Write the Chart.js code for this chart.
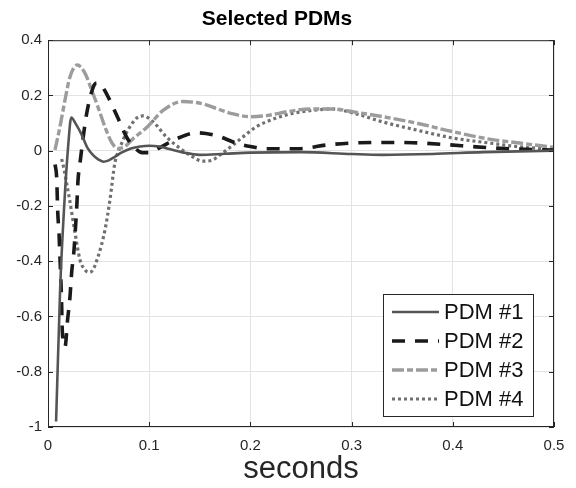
<!DOCTYPE html>
<html>
<head>
<meta charset="utf-8">
<script src="https://cdn.jsdelivr.net/npm/chart.js@4/dist/chart.umd.min.js"></script>
<style>
  html, body { margin: 0; padding: 0; background: #fff; }
  #wrap { width: 576px; height: 488px; }
</style>
</head>
<body>
<div id="wrap"><canvas id="c"></canvas></div>
<script>
const FONT = "'Liberation Sans', Arial, Helvetica, sans-serif";

const labels = ['PDM #1', 'PDM #2', 'PDM #3', 'PDM #4'];

// PDM #1 (solid)
const t1 = [0.008, 0.012, 0.016, 0.020, 0.023, 0.027, 0.033, 0.039, 0.045, 0.050, 0.055, 0.060, 0.066, 0.073, 0.082, 0.091, 0.100, 0.110, 0.120, 0.133, 0.150, 0.175, 0.200, 0.250, 0.300, 0.330, 0.380, 0.430, 0.500];
const y1 = [-0.98, -0.50, -0.20, 0.02, 0.12, 0.10, 0.06, 0.01, -0.018, -0.032, -0.04, -0.035, -0.022, -0.006, 0.008, 0.015, 0.018, 0.015, 0.006, -0.006, -0.015, -0.011, -0.007, -0.005, -0.012, -0.015, -0.012, -0.005, 0];

// PDM #2 (dashed)
const t2 = [0.007, 0.0086, 0.0096, 0.0109, 0.0118, 0.0128, 0.0135, 0.0140, 0.0158, 0.0168, 0.0194, 0.0217, 0.0234, 0.0257, 0.0273, 0.0286, 0.0296, 0.0316, 0.038, 0.0447, 0.048, 0.052, 0.058, 0.069, 0.078, 0.086, 0.093, 0.100, 0.110, 0.127, 0.147, 0.167, 0.185, 0.200, 0.216, 0.246, 0.278, 0.308, 0.338, 0.360, 0.394, 0.423, 0.456, 0.500];
const y2 = [-0.05, -0.10, -0.22, -0.30, -0.385, -0.475, -0.56, -0.64, -0.70, -0.71, -0.61, -0.53, -0.44, -0.36, -0.27, -0.19, -0.11, -0.045, 0.13, 0.23, 0.245, 0.24, 0.205, 0.119, 0.047, 0.01, -0.007, -0.007, 0.01, 0.043, 0.065, 0.054, 0.029, 0.015, 0.007, 0.007, 0.022, 0.029, 0.03, 0.029, 0.022, 0.014, 0.007, 0.002];

// PDM #3 (dash-dot)
const t3 = [0.0069, 0.0118, 0.0168, 0.0217, 0.0289, 0.0365, 0.0431, 0.0494, 0.0563, 0.0632, 0.069, 0.076, 0.083, 0.098, 0.114, 0.133, 0.145, 0.155, 0.167, 0.183, 0.200, 0.216, 0.236, 0.259, 0.281, 0.301, 0.331, 0.364, 0.400, 0.436, 0.466, 0.500];
const y3 = [0.003, 0.086, 0.184, 0.267, 0.31, 0.281, 0.22, 0.158, 0.086, 0.028, 0.008, 0.015, 0.04, 0.086, 0.147, 0.178, 0.175, 0.168, 0.152, 0.133, 0.123, 0.127, 0.141, 0.151, 0.151, 0.141, 0.123, 0.10, 0.069, 0.042, 0.028, 0.012];

// PDM #4 (dotted)
const t4 = [0.0135, 0.016, 0.0185, 0.021, 0.0267, 0.0316, 0.0365, 0.040, 0.0431, 0.0494, 0.0563, 0.0612, 0.0661, 0.071, 0.079, 0.088, 0.094, 0.104, 0.117, 0.130, 0.142, 0.153, 0.163, 0.170, 0.183, 0.193, 0.206, 0.216, 0.236, 0.259, 0.281, 0.301, 0.331, 0.364, 0.400, 0.436, 0.466, 0.500];
const y4 = [-0.03, -0.07, -0.12, -0.17, -0.297, -0.395, -0.431, -0.44, -0.437, -0.384, -0.287, -0.178, -0.044, 0.01, 0.075, 0.119, 0.126, 0.104, 0.05, 0.01, -0.02, -0.038, -0.033, -0.015, 0.021, 0.051, 0.087, 0.105, 0.13, 0.145, 0.151, 0.137, 0.104, 0.075, 0.046, 0.028, 0.014, 0.004];

const pts = (t, v) => t.map((x, i) => ({ x, y: v[i] }));

const styles = [
  { color: '#555555', width: 2.6, dash: [] },
  { color: '#1a1a1a', width: 3.6, dash: [13, 10] },
  { color: '#9c9c9c', width: 3.4, dash: [12, 3, 6, 3] },
  { color: '#707070', width: 3.2, dash: [3, 3] }
];

const series = [pts(t1, y1), pts(t2, y2), pts(t3, y3), pts(t4, y4)];

// box, inward ticks, legend inside the axes
const frame = {
  id: 'frame',
  afterDatasetsDraw(chart) {
    const { ctx, chartArea: a, scales: { x, y } } = chart;
    ctx.save();
    ctx.strokeStyle = '#262626';
    ctx.lineWidth = 1;
    ctx.strokeRect(a.left + 0.5, a.top + 0.5, a.width - 1, a.height - 1);
    ctx.beginPath();
    x.ticks.forEach(t => {
      const px = Math.round(x.getPixelForValue(t.value)) + 0.5;
      ctx.moveTo(px, a.bottom); ctx.lineTo(px, a.bottom - 5);
      ctx.moveTo(px, a.top); ctx.lineTo(px, a.top + 5);
    });
    y.ticks.forEach(t => {
      const py = Math.round(y.getPixelForValue(t.value)) + 0.5;
      ctx.moveTo(a.left, py); ctx.lineTo(a.left + 5, py);
      ctx.moveTo(a.right, py); ctx.lineTo(a.right - 5, py);
    });
    ctx.stroke();

    const bw = 150, bh = 122;
    const bx = a.right - 21 - bw, by = a.bottom - 11 - bh;
    ctx.fillStyle = '#fff';
    ctx.fillRect(bx, by, bw, bh);
    ctx.strokeStyle = '#262626';
    ctx.strokeRect(bx + 0.5, by + 0.5, bw, bh);
    ctx.font = '22px ' + FONT;
    ctx.textBaseline = 'middle';
    labels.forEach((lab, i) => {
      const s = styles[i];
      const cy = by + 18 + i * 29;
      ctx.strokeStyle = s.color;
      ctx.lineWidth = s.width;
      ctx.setLineDash(s.dash);
      ctx.beginPath();
      ctx.moveTo(bx + 9, cy); ctx.lineTo(bx + 56, cy);
      ctx.stroke();
      ctx.setLineDash([]);
      ctx.fillStyle = '#111';
      ctx.fillText(lab, bx + 61, cy + 1);
    });
    ctx.restore();
  }
};

new Chart(document.getElementById('c'), {
  type: 'line',
  data: {
    datasets: series.map((d, i) => ({
      label: labels[i],
      data: d,
      borderColor: styles[i].color,
      borderWidth: styles[i].width,
      borderDash: styles[i].dash,
      pointRadius: 0,
      fill: false,
      cubicInterpolationMode: 'monotone'
    }))
  },
  options: {
    responsive: true, maintainAspectRatio: false, animation: false,
    layout: { padding: { left: 0, right: 22, top: 0, bottom: 0 } },
    plugins: {
      legend: { display: false },
      tooltip: { enabled: false },
      title: {
        display: true, text: 'Selected PDMs', color: '#000',
        font: { family: FONT, size: 21, weight: 'bold' },
        padding: { top: 7, bottom: 8 }
      }
    },
    scales: {
      x: {
        type: 'linear', min: 0, max: 0.5,
        afterFit: s => { s.height = 61; },
        border: { display: false },
        grid: { color: '#e3e3e3', drawTicks: false, tickLength: 0 },
        ticks: { stepSize: 0.1, padding: 10, color: '#262626', font: { family: FONT, size: 15 }, maxRotation: 0, callback: v => String(+v.toFixed(1)) },
        title: { display: true, text: 'seconds', color: '#262626', font: { family: FONT, size: 31 }, padding: { top: 0, bottom: 0 } }
      },
      y: {
        type: 'linear', min: -1, max: 0.4,
        afterFit: s => { s.width = 48; },
        border: { display: false },
        grid: { color: '#e3e3e3', drawTicks: false, tickLength: 0 },
        ticks: { stepSize: 0.2, padding: 6, color: '#262626', font: { family: FONT, size: 15 }, callback: v => String(+v.toFixed(1)) }
      }
    }
  },
  plugins: [frame]
});
</script>
</body>
</html>
